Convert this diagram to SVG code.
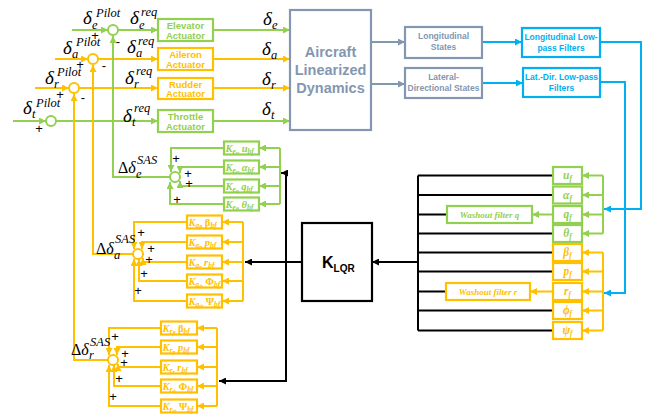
<svg xmlns="http://www.w3.org/2000/svg" width="650" height="414" viewBox="0 0 650 414">
<style>
  .g{stroke:#92D050;fill:none;stroke-width:2}
  .o{stroke:#FFC000;fill:none;stroke-width:2}
  .s{stroke:#8497B0;fill:none;stroke-width:2}
  .c{stroke:#00B0F0;fill:none;stroke-width:2}
  .k{stroke:#000;fill:none;stroke-width:2}
  .bx{fill:#fff;stroke-width:2.2}
  .sum{fill:#fff;stroke-width:2}
  .lbl{font-family:"Liberation Sans",Arial,sans-serif;font-weight:bold;text-anchor:middle}
  .m{font-family:"Liberation Serif","Times New Roman",serif;font-style:italic;fill:#000}
  .d{font-size:19px}
  .sp{font-size:12.5px}
  .pm{font-family:"Liberation Sans",Arial,sans-serif;font-size:13px;fill:#000;text-anchor:middle}
  .gt{font-family:"Liberation Serif","Times New Roman",serif;font-style:italic;font-weight:bold;font-size:10.5px}
  .s1{font-size:7.5px}
  .s2{font-size:6px}
  .st{font-family:"Liberation Serif","Times New Roman",serif;font-style:italic;font-weight:bold;font-size:11.5px;text-anchor:middle}
  .wf{font-family:"Liberation Serif","Times New Roman",serif;font-style:italic;font-weight:bold;font-size:9px;text-anchor:middle}
</style>
<defs>
  <marker id="ag" viewBox="0 0 8 8" refX="8" refY="4" markerWidth="7" markerHeight="7" markerUnits="userSpaceOnUse" orient="auto"><path d="M0,0 L8,4 L0,8 z" fill="#92D050"/></marker>
  <marker id="ao" viewBox="0 0 8 8" refX="8" refY="4" markerWidth="7" markerHeight="7" markerUnits="userSpaceOnUse" orient="auto"><path d="M0,0 L8,4 L0,8 z" fill="#FFC000"/></marker>
  <marker id="as" viewBox="0 0 8 8" refX="8" refY="4" markerWidth="7" markerHeight="7" markerUnits="userSpaceOnUse" orient="auto"><path d="M0,0 L8,4 L0,8 z" fill="#8497B0"/></marker>
  <marker id="ac" viewBox="0 0 8 8" refX="8" refY="4" markerWidth="7" markerHeight="7" markerUnits="userSpaceOnUse" orient="auto"><path d="M0,0 L8,4 L0,8 z" fill="#00B0F0"/></marker>
  <marker id="ak" viewBox="0 0 8 8" refX="8" refY="4" markerWidth="7" markerHeight="7" markerUnits="userSpaceOnUse" orient="auto"><path d="M0,0 L8,4 L0,8 z" fill="#000"/></marker>
</defs>

<!-- connectors -->
<g id="connectors">
  <!-- pilot inputs and actuator commands -->
  <path class="g" d="M72,30 H108" marker-end="url(#ag)"/>
  <path class="g" d="M118,30 H158" marker-end="url(#ag)"/>
  <path class="g" d="M213,30 H290" marker-end="url(#ag)"/>
  <path class="o" d="M55,59 H88" marker-end="url(#ao)"/>
  <path class="o" d="M98,59 H158" marker-end="url(#ao)"/>
  <path class="o" d="M213,59 H290" marker-end="url(#ao)"/>
  <path class="o" d="M35,88 H69" marker-end="url(#ao)"/>
  <path class="o" d="M79,88 H158" marker-end="url(#ao)"/>
  <path class="o" d="M213,88 H290" marker-end="url(#ao)"/>
  <path class="g" d="M13,121 H46" marker-end="url(#ag)"/>
  <path class="g" d="M56,121 H158" marker-end="url(#ag)"/>
  <path class="g" d="M213,121 H290" marker-end="url(#ag)"/>

  <!-- SAS feedback into command junctions -->
  <path class="g" d="M170,177 H113 V36" marker-end="url(#ag)"/>
  <path class="o" d="M133,254 H93 V65" marker-end="url(#ao)"/>
  <path class="o" d="M108,360 H74 V94" marker-end="url(#ao)"/>

  <!-- aircraft outputs -->
  <path class="s" d="M371,42 H405" marker-end="url(#as)"/>
  <path class="s" d="M371,84 H405" marker-end="url(#as)"/>
  <path class="c" d="M482,42 H522" marker-end="url(#ac)"/>
  <path class="c" d="M482,83 H523" marker-end="url(#ac)"/>
  <path class="c" d="M600,42 H641 V209 H604" marker-end="url(#ac)"/>
  <path class="c" d="M600,82 H625 V293 H604" marker-end="url(#ac)"/>

  <!-- filtered state buses -->
  <path class="g" d="M603,175.5 V233.5"/>
  <path class="g" d="M603,175.5 H582" marker-end="url(#ag)"/>
  <path class="g" d="M603,195 H582" marker-end="url(#ag)"/>
  <path class="g" d="M603,214.5 H582" marker-end="url(#ag)"/>
  <path class="g" d="M603,233.5 H582" marker-end="url(#ag)"/>
  <path class="g" d="M553,214.5 H532" marker-end="url(#ag)"/>
  <path class="o" d="M603,252.5 V330.5"/>
  <path class="o" d="M603,252.5 H582" marker-end="url(#ao)"/>
  <path class="o" d="M603,271.5 H582" marker-end="url(#ao)"/>
  <path class="o" d="M603,291.5 H582" marker-end="url(#ao)"/>
  <path class="o" d="M603,310.5 H582" marker-end="url(#ao)"/>
  <path class="o" d="M603,330.5 H582" marker-end="url(#ao)"/>
  <path class="o" d="M553,291.5 H530" marker-end="url(#ao)"/>

  <!-- state vector collection to K_LQR -->
  <path class="k" d="M418,175.5 V330.5"/>
  <path class="k" d="M418,175.5 H553 M418,195 H553 M418,214.5 H447 M418,233.5 H553 M418,252.5 H553 M418,271.5 H553 M418,291.5 H446 M418,310.5 H553 M418,330.5 H553"/>
  <path class="k" d="M418,262 H372" marker-end="url(#ak)"/>

  <!-- K_LQR output distribution -->
  <path class="k" d="M302,262 H245" marker-end="url(#ak)"/>
  <path class="k" d="M286,173 V381"/>
  <path class="k" d="M287,173 H281" marker-end="url(#ak)"/>
  <path class="k" d="M287,381 H219" marker-end="url(#ak)"/>

  <!-- elevator gain bus -->
  <path class="g" d="M280,148 V204"/>
  <path class="g" d="M280,148 H259" marker-end="url(#ag)"/>
  <path class="g" d="M280,167 H259" marker-end="url(#ag)"/>
  <path class="g" d="M280,186 H259" marker-end="url(#ag)"/>
  <path class="g" d="M280,204 H259" marker-end="url(#ag)"/>
  <path class="g" d="M224,148 H171 V172" marker-end="url(#ag)"/>
  <path class="g" d="M224,167 H180 V173" marker-end="url(#ag)"/>
  <path class="g" d="M224,186 H180 V181" marker-end="url(#ag)"/>
  <path class="g" d="M224,204 H170 V182" marker-end="url(#ag)"/>

  <!-- aileron gain bus -->
  <path class="o" d="M243,222 V301"/>
  <path class="o" d="M243,222 H222" marker-end="url(#ao)"/>
  <path class="o" d="M243,242 H222" marker-end="url(#ao)"/>
  <path class="o" d="M243,262 H222" marker-end="url(#ao)"/>
  <path class="o" d="M243,281 H222" marker-end="url(#ao)"/>
  <path class="o" d="M243,301 H222" marker-end="url(#ao)"/>
  <path class="o" d="M187,222 H134 V249" marker-end="url(#ao)"/>
  <path class="o" d="M187,242 H142 V249" marker-end="url(#ao)"/>
  <path class="o" d="M187,262 H143 V258" marker-end="url(#ao)"/>
  <path class="o" d="M187,281 H139 V259" marker-end="url(#ao)"/>
  <path class="o" d="M187,301 H134 V259" marker-end="url(#ao)"/>

  <!-- rudder gain bus -->
  <path class="o" d="M217,328 V406"/>
  <path class="o" d="M217,328 H197" marker-end="url(#ao)"/>
  <path class="o" d="M217,347 H197" marker-end="url(#ao)"/>
  <path class="o" d="M217,367 H197" marker-end="url(#ao)"/>
  <path class="o" d="M217,386 H197" marker-end="url(#ao)"/>
  <path class="o" d="M217,406 H197" marker-end="url(#ao)"/>
  <path class="o" d="M161,328 H109 V355" marker-end="url(#ao)"/>
  <path class="o" d="M161,347 H117 V355" marker-end="url(#ao)"/>
  <path class="o" d="M161,367 H118 V364" marker-end="url(#ao)"/>
  <path class="o" d="M161,386 H114 V365" marker-end="url(#ao)"/>
  <path class="o" d="M161,406 H109 V365" marker-end="url(#ao)"/>
</g>

<!-- command summing junctions -->
<g id="sum-elevator">
  <circle class="sum" cx="113" cy="30" r="5" stroke="#92D050"/>
  <text class="m d" x="83" y="24">δ</text><text class="m sp" x="92" y="29">e</text><text class="m sp" x="96" y="17">Pilot</text>
  <text class="m d" x="130" y="24">δ</text><text class="m sp" x="139" y="29">e</text><text class="m sp" x="141" y="16">req</text>
  <text class="pm" x="95" y="40">+</text><text class="pm" x="118" y="46">-</text>
</g>
<g id="sum-aileron">
  <circle class="sum" cx="93" cy="59" r="5" stroke="#FFC000"/>
  <text class="m d" x="63" y="54">δ</text><text class="m sp" x="72" y="58">a</text><text class="m sp" x="76" y="46">Pilot</text>
  <text class="m d" x="127" y="53">δ</text><text class="m sp" x="136" y="57">a</text><text class="m sp" x="138" y="45">req</text>
  <text class="pm" x="80" y="69">+</text><text class="pm" x="104" y="70">-</text>
</g>
<g id="sum-rudder">
  <circle class="sum" cx="74" cy="88" r="5" stroke="#FFC000"/>
  <text class="m d" x="45" y="84">δ</text><text class="m sp" x="54" y="88">r</text><text class="m sp" x="57" y="76">Pilot</text>
  <text class="m d" x="125" y="84">δ</text><text class="m sp" x="134" y="88">r</text><text class="m sp" x="136" y="75">req</text>
  <text class="pm" x="60" y="99">+</text><text class="pm" x="83" y="102">-</text>
</g>
<g id="sum-throttle">
  <circle class="sum" cx="51" cy="121" r="5" stroke="#92D050"/>
  <text class="m d" x="23" y="114">δ</text><text class="m sp" x="32" y="118">t</text><text class="m sp" x="36" y="107">Pilot</text>
  <text class="m d" x="123" y="122">δ</text><text class="m sp" x="132" y="126">t</text><text class="m sp" x="134" y="112">req</text>
  <text class="pm" x="39" y="133">+</text>
</g>

<!-- actuators -->
<g id="act-elevator">
  <rect class="bx" x="158" y="19" width="55" height="22" stroke="#92D050"/>
  <text class="lbl" x="185.5" y="28.5" font-size="9.5" fill="#92D050">Elevator</text>
  <text class="lbl" x="185.5" y="38.5" font-size="9.5" fill="#92D050">Actuator</text>
</g>
<g id="act-aileron">
  <rect class="bx" x="158" y="48" width="55" height="22" stroke="#FFC000"/>
  <text class="lbl" x="185.5" y="57.5" font-size="9.5" fill="#FFC000">Aileron</text>
  <text class="lbl" x="185.5" y="67.5" font-size="9.5" fill="#FFC000">Actuator</text>
</g>
<g id="act-rudder">
  <rect class="bx" x="158" y="78" width="55" height="21" stroke="#FFC000"/>
  <text class="lbl" x="185.5" y="87.5" font-size="9.5" fill="#FFC000">Rudder</text>
  <text class="lbl" x="185.5" y="96.5" font-size="9.5" fill="#FFC000">Actuator</text>
</g>
<g id="act-throttle">
  <rect class="bx" x="158" y="110" width="55" height="22" stroke="#92D050"/>
  <text class="lbl" x="185.5" y="119.5" font-size="9.5" fill="#92D050">Throttle</text>
  <text class="lbl" x="185.5" y="129.5" font-size="9.5" fill="#92D050">Actuator</text>
</g>

<!-- control surface deflections -->
<g id="deflections">
  <text class="m d" x="263" y="25">δ</text><text class="m sp" x="272" y="29">e</text>
  <text class="m d" x="262" y="55">δ</text><text class="m sp" x="271" y="59">a</text>
  <text class="m d" x="262" y="85">δ</text><text class="m sp" x="271" y="89">r</text>
  <text class="m d" x="262" y="115">δ</text><text class="m sp" x="271" y="119">t</text>
</g>

<!-- plant -->
<g id="aircraft">
  <rect class="bx" x="290" y="10" width="81" height="120" stroke="#8497B0"/>
  <text class="lbl" x="330.5" y="57" font-size="14.5" fill="#8497B0">Aircraft</text>
  <text class="lbl" x="330.5" y="75" font-size="14.5" fill="#8497B0">Linearized</text>
  <text class="lbl" x="330.5" y="93" font-size="14.5" fill="#8497B0">Dynamics</text>
</g>
<g id="long-states">
  <rect class="bx" x="405" y="27" width="77" height="31" stroke="#8497B0"/>
  <text class="lbl" x="443.5" y="39" font-size="8.5" fill="#8497B0">Longitudinal</text>
  <text class="lbl" x="443.5" y="50" font-size="8.5" fill="#8497B0">States</text>
</g>
<g id="latdir-states">
  <rect class="bx" x="405" y="68" width="77" height="30" stroke="#8497B0"/>
  <text class="lbl" x="443.5" y="80" font-size="8.5" fill="#8497B0">Lateral-</text>
  <text class="lbl" x="443.5" y="91" font-size="8.5" fill="#8497B0">Directional States</text>
</g>
<g id="long-filters">
  <rect class="bx" x="522" y="28" width="78" height="29" stroke="#00B0F0"/>
  <text class="lbl" x="561" y="40" font-size="8.5" fill="#00B0F0">Longitudinal Low-</text>
  <text class="lbl" x="561" y="51" font-size="8.5" fill="#00B0F0">pass Filters</text>
</g>
<g id="latdir-filters">
  <rect class="bx" x="523" y="68" width="77" height="29" stroke="#00B0F0"/>
  <text class="lbl" x="561.5" y="80" font-size="8.5" fill="#00B0F0">Lat.-Dir. Low-pass</text>
  <text class="lbl" x="561.5" y="91" font-size="8.5" fill="#00B0F0">Filters</text>
</g>

<!-- filtered states -->
<g id="state-u"><rect class="bx" x="553" y="167" width="29" height="17" stroke="#92D050"/><text class="st" x="567.5" y="179" fill="#92D050">u<tspan class="s1" dy="2">f</tspan></text></g>
<g id="state-alpha"><rect class="bx" x="553" y="186.5" width="29" height="17" stroke="#92D050"/><text class="st" x="567.5" y="198.5" fill="#92D050">α<tspan class="s1" dy="2">f</tspan></text></g>
<g id="state-q"><rect class="bx" x="553" y="206" width="29" height="17" stroke="#92D050"/><text class="st" x="567.5" y="218" fill="#92D050">q<tspan class="s1" dy="2">f</tspan></text></g>
<g id="state-theta"><rect class="bx" x="553" y="225" width="29" height="17" stroke="#92D050"/><text class="st" x="567.5" y="237" fill="#92D050">θ<tspan class="s1" dy="2">f</tspan></text></g>
<g id="state-beta"><rect class="bx" x="553" y="244" width="29" height="17" stroke="#FFC000"/><text class="st" x="567.5" y="256" fill="#FFC000">β<tspan class="s1" dy="2">f</tspan></text></g>
<g id="state-p"><rect class="bx" x="553" y="263" width="29" height="17" stroke="#FFC000"/><text class="st" x="567.5" y="275" fill="#FFC000">p<tspan class="s1" dy="2">f</tspan></text></g>
<g id="state-r"><rect class="bx" x="553" y="283" width="29" height="17" stroke="#FFC000"/><text class="st" x="567.5" y="295" fill="#FFC000">r<tspan class="s1" dy="2">f</tspan></text></g>
<g id="state-phi"><rect class="bx" x="553" y="302" width="29" height="17" stroke="#FFC000"/><text class="st" x="567.5" y="314" fill="#FFC000">ϕ<tspan class="s1" dy="2">f</tspan></text></g>
<g id="state-psi"><rect class="bx" x="553" y="322" width="29" height="17" stroke="#FFC000"/><text class="st" x="567.5" y="334" fill="#FFC000">ψ<tspan class="s1" dy="2">f</tspan></text></g>

<g id="washout-q"><rect class="bx" x="447" y="206" width="85" height="17" stroke="#92D050"/><text class="wf" x="489.5" y="217.5" fill="#92D050">Washout filter q</text></g>
<g id="washout-r"><rect class="bx" x="446" y="283" width="84" height="17" stroke="#FFC000"/><text class="wf" x="488" y="294.5" fill="#FFC000">Washout filter r</text></g>

<!-- LQR gain -->
<g id="klqr">
  <rect x="302" y="223" width="70" height="78" fill="#fff" stroke="#000" stroke-width="2.2"/>
  <text x="322" y="268" font-family="Liberation Sans,Arial,sans-serif" font-weight="bold" font-size="16" fill="#000">K<tspan font-size="10" dy="4">LQR</tspan></text>
</g>

<!-- elevator SAS gains -->
<g id="sas-elevator">
  <circle class="sum" cx="175" cy="177" r="5" stroke="#92D050"/>
  <text class="m" x="118" y="173" font-size="16"><tspan font-style="normal">Δ</tspan>δ</text><text class="m sp" x="137" y="164">SAS</text><text class="m sp" x="136" y="178">e</text>
  <text class="pm" x="176" y="163">+</text><text class="pm" x="188" y="178">+</text><text class="pm" x="189" y="188">+</text><text class="pm" x="177" y="204">+</text>
</g>
<g id="gain-eu"><rect class="bx" x="224" y="141.5" width="35" height="13" stroke="#92D050"/><text class="gt" x="225.5" y="151.5" fill="#92D050">K<tspan class="s1" dy="2">e</tspan><tspan class="s2" dy="1.5">u</tspan><tspan dx="2.5" dy="-3.5">u</tspan><tspan class="s1" dy="2">bf</tspan></text></g>
<g id="gain-ealpha"><rect class="bx" x="224" y="160.5" width="35" height="13" stroke="#92D050"/><text class="gt" x="225.5" y="170.5" fill="#92D050">K<tspan class="s1" dy="2">e</tspan><tspan class="s2" dy="1.5">α</tspan><tspan dx="2.5" dy="-3.5">α</tspan><tspan class="s1" dy="2">bf</tspan></text></g>
<g id="gain-eq"><rect class="bx" x="224" y="179.5" width="35" height="13" stroke="#92D050"/><text class="gt" x="225.5" y="189.5" fill="#92D050">K<tspan class="s1" dy="2">e</tspan><tspan class="s2" dy="1.5">q</tspan><tspan dx="2.5" dy="-3.5">q</tspan><tspan class="s1" dy="2">bf</tspan></text></g>
<g id="gain-etheta"><rect class="bx" x="224" y="197.5" width="35" height="13" stroke="#92D050"/><text class="gt" x="225.5" y="207.5" fill="#92D050">K<tspan class="s1" dy="2">e</tspan><tspan class="s2" dy="1.5">θ</tspan><tspan dx="2.5" dy="-3.5">θ</tspan><tspan class="s1" dy="2">bf</tspan></text></g>

<!-- aileron SAS gains -->
<g id="sas-aileron">
  <circle class="sum" cx="138" cy="254" r="5" stroke="#FFC000"/>
  <text class="m" x="96" y="254" font-size="16"><tspan font-style="normal">Δ</tspan>δ</text><text class="m sp" x="115" y="243">SAS</text><text class="m sp" x="114" y="259">a</text>
  <text class="pm" x="141" y="237">+</text><text class="pm" x="151" y="253">+</text><text class="pm" x="149" y="264">+</text><text class="pm" x="144" y="278">+</text><text class="pm" x="138" y="295">+</text>
</g>
<g id="gain-abeta"><rect class="bx" x="187" y="215.5" width="35" height="13" stroke="#FFC000"/><text class="gt" x="188.5" y="225.5" fill="#FFC000">K<tspan class="s1" dy="2">a</tspan><tspan class="s2" dy="1.5">β</tspan><tspan dx="2.5" dy="-3.5" font-style="normal">β</tspan><tspan class="s1" dy="2">bf</tspan></text></g>
<g id="gain-ap"><rect class="bx" x="187" y="235.5" width="35" height="13" stroke="#FFC000"/><text class="gt" x="188.5" y="245.5" fill="#FFC000">K<tspan class="s1" dy="2">a</tspan><tspan class="s2" dy="1.5">p</tspan><tspan dx="2.5" dy="-3.5">p</tspan><tspan class="s1" dy="2">bf</tspan></text></g>
<g id="gain-ar"><rect class="bx" x="187" y="255.5" width="35" height="13" stroke="#FFC000"/><text class="gt" x="188.5" y="265.5" fill="#FFC000">K<tspan class="s1" dy="2">a</tspan><tspan class="s2" dy="1.5">r</tspan><tspan dx="2.5" dy="-3.5">r</tspan><tspan class="s1" dy="2">bf</tspan></text></g>
<g id="gain-aphi"><rect class="bx" x="187" y="274.5" width="35" height="13" stroke="#FFC000"/><text class="gt" x="188.5" y="284.5" fill="#FFC000">K<tspan class="s1" dy="2">a</tspan><tspan class="s2" dy="1.5">ϕ</tspan><tspan dx="2.5" dy="-3.5" font-style="normal">Φ</tspan><tspan class="s1" dy="2">bf</tspan></text></g>
<g id="gain-apsi"><rect class="bx" x="187" y="294.5" width="35" height="13" stroke="#FFC000"/><text class="gt" x="188.5" y="304.5" fill="#FFC000">K<tspan class="s1" dy="2">a</tspan><tspan class="s2" dy="1.5">ψ</tspan><tspan dx="2.5" dy="-3.5" font-style="normal">Ψ</tspan><tspan class="s1" dy="2">bf</tspan></text></g>

<!-- rudder SAS gains -->
<g id="sas-rudder">
  <circle class="sum" cx="113" cy="360" r="5" stroke="#FFC000"/>
  <text class="m" x="71" y="355" font-size="16"><tspan font-style="normal">Δ</tspan>δ</text><text class="m sp" x="90" y="346">SAS</text><text class="m sp" x="89" y="359">r</text>
  <text class="pm" x="115" y="341">+</text><text class="pm" x="125" y="358">+</text><text class="pm" x="124" y="367">+</text><text class="pm" x="119" y="383">+</text><text class="pm" x="113" y="401">+</text>
</g>
<g id="gain-rbeta"><rect class="bx" x="161" y="321.5" width="36" height="13" stroke="#FFC000"/><text class="gt" x="162.5" y="331.5" fill="#FFC000">K<tspan class="s1" dy="2">r</tspan><tspan class="s2" dy="1.5">β</tspan><tspan dx="2.5" dy="-3.5" font-style="normal">β</tspan><tspan class="s1" dy="2">bf</tspan></text></g>
<g id="gain-rp"><rect class="bx" x="161" y="340.5" width="36" height="13" stroke="#FFC000"/><text class="gt" x="162.5" y="350.5" fill="#FFC000">K<tspan class="s1" dy="2">r</tspan><tspan class="s2" dy="1.5">p</tspan><tspan dx="2.5" dy="-3.5">p</tspan><tspan class="s1" dy="2">bf</tspan></text></g>
<g id="gain-rr"><rect class="bx" x="161" y="360.5" width="36" height="13" stroke="#FFC000"/><text class="gt" x="162.5" y="370.5" fill="#FFC000">K<tspan class="s1" dy="2">r</tspan><tspan class="s2" dy="1.5">r</tspan><tspan dx="2.5" dy="-3.5">r</tspan><tspan class="s1" dy="2">bf</tspan></text></g>
<g id="gain-rphi"><rect class="bx" x="161" y="379.5" width="36" height="13" stroke="#FFC000"/><text class="gt" x="162.5" y="389.5" fill="#FFC000">K<tspan class="s1" dy="2">r</tspan><tspan class="s2" dy="1.5">ϕ</tspan><tspan dx="2.5" dy="-3.5" font-style="normal">Φ</tspan><tspan class="s1" dy="2">bf</tspan></text></g>
<g id="gain-rpsi"><rect class="bx" x="161" y="399.5" width="36" height="13" stroke="#FFC000"/><text class="gt" x="162.5" y="409.5" fill="#FFC000">K<tspan class="s1" dy="2">r</tspan><tspan class="s2" dy="1.5">ψ</tspan><tspan dx="2.5" dy="-3.5" font-style="normal">Ψ</tspan><tspan class="s1" dy="2">bf</tspan></text></g>
</svg>
